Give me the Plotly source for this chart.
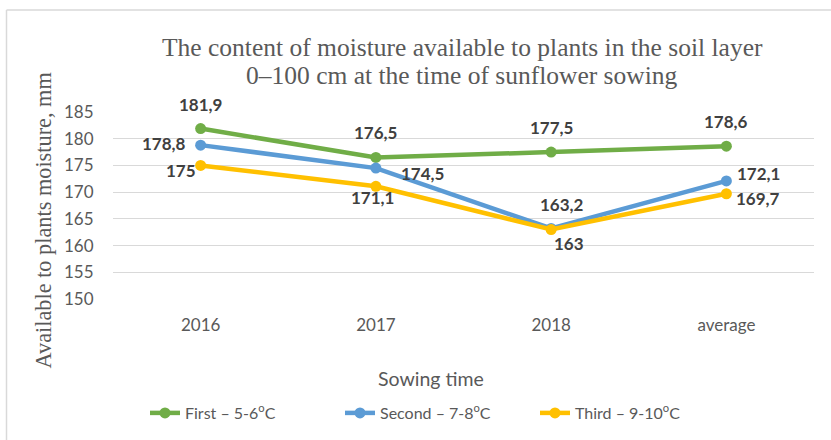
import plotly.graph_objects as go

# ---- data ----
categories = ["2016", "2017", "2018", "average"]
first_vals = [181.9, 176.5, 177.5, 178.6]
second_vals = [178.8, 174.5, 163.2, 172.1]
third_vals = [175.0, 171.1, 163.0, 169.7]
series_names = ["First – 5-6<sup>o</sup>C", "Second – 7-8<sup>o</sup>C", "Third – 9-10<sup>o</sup>C"]
y_ticks = [150, 155, 160, 165, 170, 175, 180, 185]
title_lines = ["The content of moisture available to plants in the soil layer",
               "0–100 cm at the time of sunflower sowing"]

# label placement offsets (pixels, x right / y up) - style only
label_offsets = [
    [(0, 24), (0, 25), (0, 25), (0, 25)],
    [(-37, 2), (47, -5), (11, 24), (32, 7)],
    [(-20, -5), (-3, -11), (18, -14), (32, -5)],
]

colors = ["#70AD47", "#5B9BD5", "#FFC000"]
W, H = 831, 440
ML, MR, MT, MB = 113, 17, 112, 140
PW, PH = W - ML - MR, H - MT - MB


def px_x(px):
    return (px - ML) / PW


def px_y(py):
    return (H - MB - py) / PH


def fmt(v):
    s = ("%.1f" % v).rstrip("0").rstrip(".")
    return s.replace(".", ",")


fig = go.Figure()
all_vals = [first_vals, second_vals, third_vals]
for name, vals, col in zip(series_names, all_vals, colors):
    fig.add_trace(go.Scatter(
        x=categories, y=vals, name=name, mode="lines+markers",
        line=dict(color=col, width=4.5),
        marker=dict(color=col, size=11),
        hoverinfo="skip",
    ))

annotations = []
for vals, offs in zip(all_vals, label_offsets):
    for i, (v, (dx, dy)) in enumerate(zip(vals, offs)):
        annotations.append(dict(
            x=i, y=v, xref="x", yref="y", text="<b>" + fmt(v) + "</b>",
            showarrow=False, xshift=dx, yshift=dy,
            font=dict(family="Lato", size=17, color="#404040"),
        ))

# title (two lines, tight spacing)
for line, py in zip(title_lines, [47, 75]):
    annotations.append(dict(
        x=px_x(462), y=px_y(py), xref="paper", yref="paper",
        text=line, showarrow=False, xanchor="center", yanchor="middle",
        font=dict(family="Liberation Serif", size=25.5, color="#595959"),
    ))
# x axis title
annotations.append(dict(
    x=px_x(431), y=px_y(380), xref="paper", yref="paper",
    text="Sowing time", showarrow=False, xanchor="center", yanchor="middle",
    font=dict(family="Lato", size=19.5, color="#595959"),
))
# y axis title
annotations.append(dict(
    x=px_x(43), y=px_y(221), xref="paper", yref="paper",
    text="Available to plants moisture, mm", showarrow=False, textangle=-90,
    xanchor="center", yanchor="middle",
    font=dict(family="Liberation Serif", size=22.3, color="#595959"),
))

fig.update_layout(
    width=W, height=H,
    margin=dict(l=ML, r=MR, t=MT, b=MB),
    paper_bgcolor="white", plot_bgcolor="white",
    showlegend=True,
    legend=dict(
        orientation="h", x=px_x(145), y=px_y(413), xanchor="left", yanchor="middle",
        font=dict(family="Lato", size=16, color="#595959"),
        itemwidth=30, bgcolor="rgba(0,0,0,0)",
        entrywidth=150, entrywidthmode="pixels",
    ),
    annotations=annotations,
    shapes=[
        dict(type="line", xref="paper", yref="paper", x0=px_x(6.5), x1=px_x(W + 5),
             y0=px_y(9.5), y1=px_y(9.5), line=dict(color="#D9D9D9", width=1.5)),
        dict(type="line", xref="paper", yref="paper", x0=px_x(6.5), x1=px_x(6.5),
             y0=px_y(9.5), y1=px_y(H + 5), line=dict(color="#D9D9D9", width=1.5)),
    ],
)
fig.update_xaxes(
    type="category", categoryorder="array", categoryarray=categories,
    range=[-0.5, len(categories) - 0.5],
    showgrid=False, showline=False, zeroline=False,
    tickfont=dict(family="Lato", size=17, color="#595959"),
    ticks="outside", ticklen=11, tickcolor="rgba(0,0,0,0)",
)
fig.update_yaxes(
    range=[150, 185], tickvals=y_ticks, showgrid=True, gridcolor="#D9D9D9", gridwidth=1,
    zeroline=False, showline=False,
    tickfont=dict(family="Lato", size=17, color="#595959"),
    ticks="outside", ticklen=15, tickcolor="rgba(0,0,0,0)",
)

fig.write_html(
    "out.html",
    config={"displayModeBar": False, "staticPlot": True},
    post_script="document.body.style.margin='0px';document.body.style.overflow='hidden';",
)
